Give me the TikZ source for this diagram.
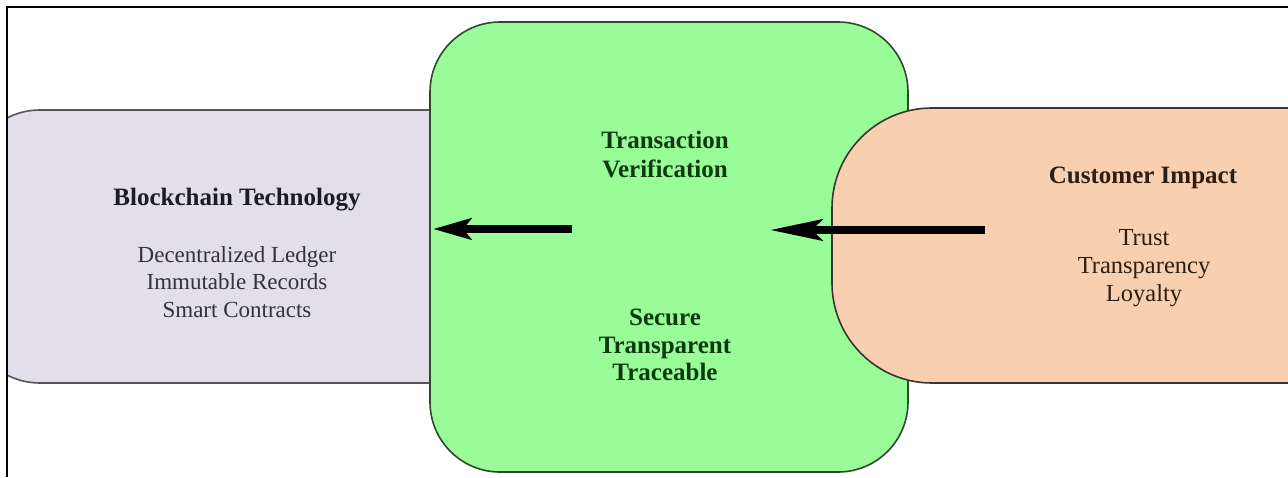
\documentclass[tikz,border=0pt]{standalone}
\usepackage{fontspec}
\setmainfont{Liberation Serif}
\usetikzlibrary{arrows.meta}
\definecolor{lavfill}{HTML}{E2DEEA}
\definecolor{lavdraw}{HTML}{555555}
\definecolor{grnfill}{HTML}{99FC99}
\definecolor{grndraw}{HTML}{2C4A2C}
\definecolor{orgfill}{HTML}{F9D0AF}
\definecolor{orgdraw}{HTML}{3A3432}
\definecolor{lavtext}{HTML}{1C1C28}
\definecolor{lavlist}{HTML}{333338}
\definecolor{grntext}{HTML}{0C3A0C}
\definecolor{orgtext}{HTML}{2E1E10}
\tikzset{
  panel/.style={draw, line width=1.6pt, inner sep=0pt},
  ttl/.style={anchor=base, inner sep=0pt, font=\fontsize{25}{30}\selectfont\bfseries},
  lst/.style={anchor=base, inner sep=0pt, font=\fontsize{23}{27}\selectfont},
  lstr/.style={anchor=base, inner sep=0pt, font=\fontsize{24.5}{29}\selectfont},
  bigarrow/.style={line width=8pt, black}
}
\begin{document}
\begin{tikzpicture}[x=1pt,y=-1pt]
\useasboundingbox (0,0) rectangle (1288,477);
\fill[white] (0,0) rectangle (1288,477);
\begin{scope}
\clip (7,7) rectangle (1288,477);
\node[panel, fill=lavfill, draw=lavdraw, rounded corners=72pt,
  minimum width=552pt, minimum height=273pt] (lav) at (244,246.5) {};
\node[panel, fill=grnfill, draw=grndraw, rounded corners=70pt,
  minimum width=478pt, minimum height=450pt] (grn) at (669,247) {};
\node[panel, fill=orgfill, draw=orgdraw, rounded corners=100pt,
  minimum width=568pt, minimum height=275pt] (org) at (1116,245.5) {};
\end{scope}
\draw[line width=1.5pt] (7,477) -- (7,7) -- (1288,7);
% left panel text
\node[ttl, text=lavtext] (bt) at (237,205) {Blockchain Technology};
\node[lst, text=lavlist] (bt1) at (237,262) {Decentralized Ledger};
\node[lst, text=lavlist] (bt2) at (237,289.5) {Immutable Records};
\node[lst, text=lavlist] (bt3) at (237,317) {Smart Contracts};
% green panel text
\node[ttl, text=grntext] (tv1) at (665,148) {Transaction};
\node[ttl, text=grntext] (tv2) at (665,177) {Verification};
\node[ttl, text=grntext] (st1) at (665,325) {Secure};
\node[ttl, text=grntext] (st2) at (665,353) {Transparent};
\node[ttl, text=grntext] (st3) at (665,380) {Traceable};
% right panel text
\node[ttl, text=orgtext] (ci) at (1143,183) {Customer Impact};
\node[lstr, text=orgtext] (ci1) at (1144,245) {Trust};
\node[lstr, text=orgtext] (ci2) at (1144,273) {Transparency};
\node[lstr, text=orgtext] (ci3) at (1144,301) {Loyalty};
% arrows
\coordinate (a1s) at (572,229);
\coordinate (a1e) at (433,229);
\coordinate (a2s) at (985,230);
\coordinate (a2e) at (770,230);
\draw[bigarrow, -{Stealth[length=38pt, width=21pt, inset=8pt]}] (a1s) -- (a1e);
\draw[bigarrow, -{Stealth[length=52pt, width=21pt, inset=10pt]}] (a2s) -- (a2e);
\end{tikzpicture}
\end{document}
